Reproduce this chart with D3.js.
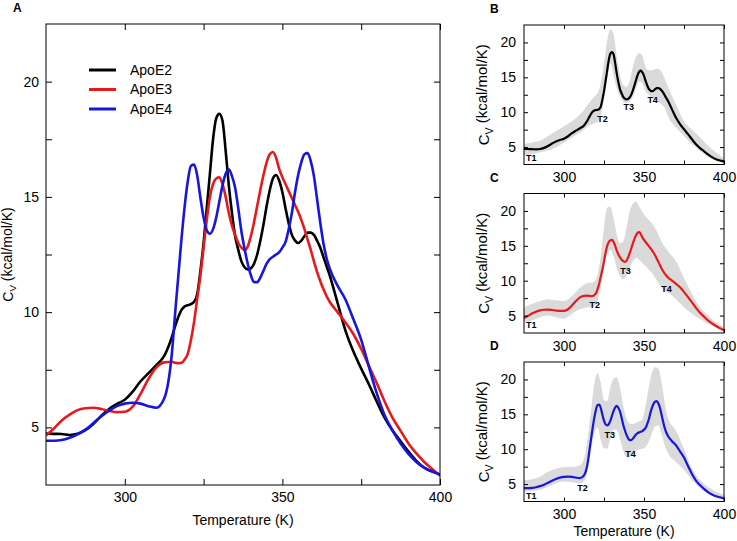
<!DOCTYPE html>
<html>
<head>
<meta charset="utf-8">
<script src="https://cdn.jsdelivr.net/npm/d3@7"></script>
<style>
  html, body { margin: 0; padding: 0; background: #fff; }
  svg { display: block; font-family: "Liberation Sans", Arial, Helvetica, sans-serif; }
</style>
</head>
<body>
<svg id="chart" width="737" height="541"></svg>
<script>
// ---------------- DATA ----------------
const temps = [275,277.5,280,282.5,285,287.5,290,292.5,295,297.5,300,302.5,305,307.5,310,312.5,315,
  316,317,318,319,320,321,322,323,324,325,326,327,328,329,330,331,332,333,334,335,336,337,338,339,340,
  341,342,343,344,345,346,347,348,349,350,351,352,353,354,355,356,357,358,359,360,361,362,363,364,
  365,367.5,370,372.5,375,377.5,380,382.5,385,387.5,390,392.5,395,397.5,400];

const apoE2 = [4.73,4.72,4.71,4.67,4.72,4.88,5.15,5.5,5.8,6.02,6.2,6.55,7.0,7.35,7.7,8.1,8.95,
  9.4,9.8,10.1,10.25,10.3,10.35,10.45,10.8,11.8,13.0,14.5,16.0,17.5,18.4,18.6,18.3,17.0,15.5,14.3,13.3,12.7,12.2,11.95,11.85,11.9,
  12.1,12.5,13.1,13.8,14.6,15.3,15.8,15.95,15.7,15.2,14.5,13.85,13.35,13.1,13.0,13.1,13.3,13.45,13.45,13.35,13.1,12.8,12.4,12.0,
  11.6,10.4,9.2,8.3,7.55,6.85,6.1,5.4,4.85,4.4,3.95,3.55,3.25,3.08,2.95];

const apoE3 = [4.65,4.95,5.3,5.55,5.75,5.83,5.85,5.8,5.72,5.66,5.68,5.9,6.45,7.1,7.6,7.82,7.85,
  7.8,7.78,7.8,7.95,8.2,8.8,9.6,10.6,11.6,12.8,14.0,15.0,15.55,15.8,15.85,15.55,15.0,14.3,13.75,13.35,13.0,12.8,12.7,12.85,13.3,
  13.9,14.6,15.3,15.95,16.5,16.85,16.95,16.7,16.2,15.85,15.55,15.25,14.95,14.65,14.35,14.0,13.6,13.15,12.7,12.2,11.75,11.35,11.0,10.7,
  10.45,10.0,9.55,9.05,8.4,7.65,6.9,6.1,5.4,4.85,4.3,3.87,3.5,3.2,2.9];

const apoE4 = [4.42,4.42,4.45,4.55,4.7,4.9,5.18,5.47,5.72,5.92,6.03,6.07,6.03,5.92,5.85,6.25,8.3,
  10.0,11.6,13.2,14.6,15.7,16.35,16.4,15.9,14.95,14.1,13.55,13.4,13.6,14.1,14.8,15.5,16.0,16.2,15.9,15.4,14.5,13.5,12.75,12.1,11.6,
  11.3,11.3,11.5,11.8,12.1,12.3,12.4,12.5,12.6,12.8,13.05,13.6,14.3,15.2,15.95,16.5,16.85,16.9,16.55,15.9,14.9,13.9,13.0,12.35,
  11.9,11.15,10.55,9.7,8.8,7.6,6.45,5.5,4.85,4.3,3.85,3.5,3.25,3.1,2.95];

const bandTemps = [275,280,285,290,295,300,305,310,313,315,317,319,321,323,325,327,329,331,333,335,337,339,341,343,345,
  347,349,351,353,355,357,359,361,363,365,370,375,380,385,390,395,400];

const apoE2Upper = [5.4,5.65,5.9,6.6,7.3,8.0,8.7,9.7,10.5,11.1,11.7,12.2,12.7,14.2,17.0,20.3,21.9,21.2,17.9,15.3,13.9,13.65,14.36,16.5,17.9,
  18.5,18.1,16.5,16.0,16.0,16.2,16.2,15.8,14.8,13.65,11.1,8.7,7.5,6.4,5.2,4.25,3.3];
const apoE2Lower = [3.8,4.0,4.25,4.5,4.95,5.66,6.36,7.07,7.6,8.0,8.2,8.4,8.6,9.6,11.8,14.6,16.9,15.3,13.4,12.2,11.5,11.3,11.5,12.2,13.4,
  14.4,14.1,12.95,12.5,12.0,11.8,11.5,11.1,10.6,9.4,7.8,6.6,5.4,4.5,3.6,3.05,2.75];

const apoE3Upper = [6.2,6.65,7.1,7.35,7.2,7.1,7.8,9.0,9.5,9.7,9.7,9.9,10.8,13.5,17.6,20.5,20.6,18.9,16.6,15.4,15.6,17.5,19.9,21.0,21.3,
  20.6,19.9,19.15,18.7,18.2,17.5,16.6,15.6,14.9,14.2,12.8,10.4,8.1,6.2,5.0,4.05,3.35];
const apoE3Lower = [4.05,4.3,4.75,5.0,4.75,4.55,5.25,5.95,6.1,6.2,6.25,6.4,7.2,9.2,11.8,13.9,14.4,13.5,11.8,10.7,10.2,10.7,11.8,12.8,13.25,
  13.0,12.55,12.1,11.6,11.1,10.4,9.7,9.0,8.55,8.3,7.35,6.2,5.25,4.5,3.8,3.3,2.75];

const apoE4Upper = [5.55,5.7,6.05,6.75,7.2,7.45,7.45,7.7,9.1,11.9,15.7,19.5,20.9,19.5,17.0,16.9,18.9,20.1,20.3,18.8,16.3,14.4,13.7,13.6,13.8,
  14.0,14.3,16.2,18.9,21.0,21.8,21.5,19.6,16.6,14.5,12.65,10.05,7.2,5.6,4.6,3.9,3.45];
const apoE4Lower = [3.9,4.0,4.15,4.6,5.1,5.35,5.25,5.1,5.6,7.2,10.0,12.4,13.1,11.3,10.1,10.1,11.5,12.8,12.8,11.5,9.8,8.85,8.8,9.4,9.8,
  10.0,10.05,10.3,11.1,12.3,13.3,13.4,12.2,10.5,9.45,8.15,7.0,5.55,4.4,3.6,3.1,2.8];

const seriesNames = ["ApoE2", "ApoE3", "ApoE4"];
const panelLetters = ["A", "B", "C", "D"];
const transitionNames = ["T1", "T2", "T3", "T4"];
// transition label anchors (temperature, Cv) for panels B, C, D
const transB = [[279.6, 3.46], [324.1, 9.0], [340.5, 10.75], [355.4, 11.7]];
const transC = [[279.6, 3.7], [319.3, 6.5], [338.5, 11.4], [364.1, 8.8]];
const transD = [[279.6, 3.3], [311.5, 4.5], [328.6, 12.0], [341.6, 9.4]];

const xDomain = [275, 400];
const yDomain = [2.5, 22.5];
const xMajorTicks = [300, 350, 400];
const xMinorTicks = [325, 375];
const yMajorTicks = [5, 10, 15, 20];
const yMinorTicks = [7.5, 12.5, 17.5];
const xTitle = "Temperature (K)";

// ---------------- STYLE ----------------
const colors = ["#000000", "#e8191b", "#1616de"];
const bandColor = "#dadada";
const FONT = '"Liberation Sans", Arial, Helvetica, sans-serif';

const svg = d3.select("#chart");

function yLabel(g, x, y, size) {
  const t = g.append("text")
    .attr("transform", `translate(${x},${y}) rotate(-90)`)
    .attr("text-anchor", "middle")
    .attr("font-size", size)
    .attr("fill", "#000");
  t.append("tspan").text("C");
  t.append("tspan").attr("font-size", size * 0.7).attr("dy", "0.35em").text("V");
  t.append("tspan").attr("dy", "-0.35em").text(" (kcal/mol/K)");
}

function drawFrame(g, x, y, w, h, tick, fontSize, pad) {
  const bottom = g.append("g").attr("transform", `translate(0,${h})`);
  bottom.append("g").call(d3.axisBottom(x).tickValues(xMajorTicks).tickSize(-tick).tickPadding(pad).tickFormat(d3.format("d")));
  bottom.append("g").call(d3.axisBottom(x).tickValues(xMinorTicks).tickSize(-tick).tickFormat(""));
  g.append("g").call(d3.axisTop(x).tickValues(xMajorTicks.concat(xMinorTicks)).tickSize(-tick).tickFormat(""));
  g.append("g").call(d3.axisLeft(y).tickValues(yMajorTicks).tickSize(-tick).tickPadding(pad).tickFormat(d3.format("d")));
  g.append("g").call(d3.axisLeft(y).tickValues(yMinorTicks).tickSize(-tick).tickFormat(""));
  g.append("g").attr("transform", `translate(${w},0)`)
    .call(d3.axisRight(y).tickValues(yMajorTicks.concat(yMinorTicks)).tickSize(-tick).tickFormat(""));
  g.selectAll(".domain").remove();
  g.selectAll(".tick line").attr("stroke", "#000").attr("stroke-width", 1);
  g.selectAll(".tick text").attr("font-size", fontSize).attr("font-family", FONT).attr("fill", "#000");
  g.append("rect").attr("x", 0).attr("y", 0).attr("width", w).attr("height", h)
    .attr("fill", "none").attr("stroke", "#000").attr("stroke-width", 1);
}

// ---------------- PANEL A ----------------
const A = { left: 46, top: 24, width: 394, height: 461 };
const gA = svg.append("g").attr("transform", `translate(${A.left},${A.top})`);
const xA = d3.scaleLinear().domain(xDomain).range([0, A.width]);
const yA = d3.scaleLinear().domain(yDomain).range([A.height, 0]);

svg.append("defs").append("clipPath").attr("id", "clipA")
  .append("rect").attr("width", A.width).attr("height", A.height);

const allSeries = [apoE2, apoE3, apoE4];
const lineA = d3.line().curve(d3.curveMonotoneX)
  .x(d => xA(d[0])).y(d => yA(d[1]));

const curvesA = gA.append("g").attr("clip-path", "url(#clipA)");
allSeries.forEach((vals, i) => {
  curvesA.append("path")
    .datum(temps.map((t, k) => [t, vals[k]]))
    .attr("d", lineA)
    .attr("fill", "none")
    .attr("stroke", colors[i])
    .attr("stroke-width", 2.6)
    .attr("stroke-linejoin", "round");
});

drawFrame(gA, xA, yA, A.width, A.height, 6, 14, 7);

// legend
const leg = gA.append("g").attr("transform", "translate(43,46)");
seriesNames.forEach((name, i) => {
  const row = leg.append("g").attr("transform", `translate(0,${i * 19.5})`);
  row.append("line").attr("x1", 0).attr("x2", 27).attr("y1", 0).attr("y2", 0)
    .attr("stroke", colors[i]).attr("stroke-width", 3);
  row.append("text").attr("x", 41).attr("y", 0).attr("dy", "0.35em")
    .attr("font-size", 14).attr("fill", "#000").text(name);
});

svg.append("text").attr("x", A.left + A.width / 2).attr("y", 525)
  .attr("text-anchor", "middle").attr("font-size", 14).text(xTitle);
yLabel(svg, 13, A.top + A.height / 2, 14);
svg.append("text").attr("x", 13).attr("y", 12).attr("font-size", 12)
  .attr("font-weight", "bold").text(panelLetters[0]);

// ---------------- PANELS B, C, D ----------------
const side = { left: 524, width: 200, height: 139.5, tops: [25, 193.5, 362] };
const sideData = [
  { vals: apoE2, up: apoE2Upper, lo: apoE2Lower, trans: transB },
  { vals: apoE3, up: apoE3Upper, lo: apoE3Lower, trans: transC },
  { vals: apoE4, up: apoE4Upper, lo: apoE4Lower, trans: transD }
];

sideData.forEach((p, i) => {
  const top = side.tops[i];
  const g = svg.append("g").attr("transform", `translate(${side.left},${top})`);
  const x = d3.scaleLinear().domain(xDomain).range([0, side.width]);
  const y = d3.scaleLinear().domain(yDomain).range([side.height, 0]);
  const cid = "clipS" + i;
  svg.select("defs").append("clipPath").attr("id", cid)
    .append("rect").attr("width", side.width).attr("height", side.height);
  const inner = g.append("g").attr("clip-path", `url(#${cid})`);

  const area = d3.area().curve(d3.curveMonotoneX)
    .x(d => x(d[0])).y0(d => y(d[1])).y1(d => y(d[2]));
  inner.append("path")
    .datum(bandTemps.map((t, k) => [t, p.lo[k], p.up[k]]))
    .attr("d", area).attr("fill", bandColor).attr("stroke", "none");

  const line = d3.line().curve(d3.curveMonotoneX).x(d => x(d[0])).y(d => y(d[1]));
  inner.append("path")
    .datum(temps.map((t, k) => [t, p.vals[k]]))
    .attr("d", line).attr("fill", "none").attr("stroke", colors[i])
    .attr("stroke-width", 2.2).attr("stroke-linejoin", "round");

  p.trans.forEach((d, k) => {
    g.append("text").attr("x", x(d[0])).attr("y", y(d[1])).attr("dy", "0.35em")
      .attr("text-anchor", "middle").attr("font-size", 9).attr("font-weight", "bold")
      .attr("fill", "#000").text(transitionNames[k]);
  });

  drawFrame(g, x, y, side.width, side.height, 4, 14, 8);

  yLabel(svg, 489, top + side.height / 2, 15);
  svg.append("text").attr("x", 490).attr("y", top - 12).attr("font-size", 12)
    .attr("font-weight", "bold").text(panelLetters[i + 1]);
});

svg.append("text").attr("x", side.left + side.width / 2).attr("y", 536)
  .attr("text-anchor", "middle").attr("font-size", 14).text(xTitle);
</script>
</body>
</html>
